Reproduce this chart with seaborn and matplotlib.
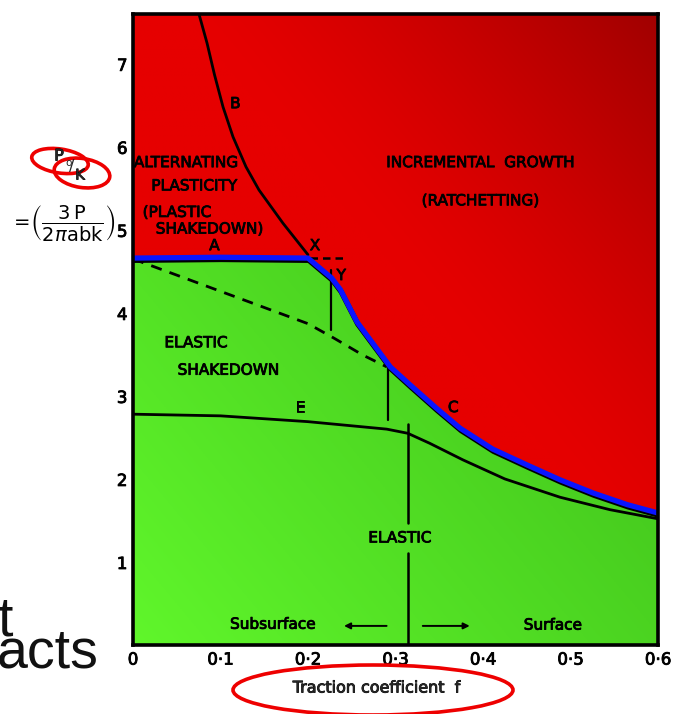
import numpy as np
import pandas as pd
import matplotlib
matplotlib.use("Agg")
import matplotlib.pyplot as plt
import matplotlib.patheffects as pe
from matplotlib.patches import Ellipse, Polygon
import seaborn as sns

# ---------------- data ----------------
bound_f = [0.0, 0.10, 0.20, 0.227, 0.237, 0.256, 0.294, 0.317, 0.347, 0.374, 0.411, 0.45, 0.488, 0.526, 0.565, 0.60]
bound_y = [4.66, 4.67, 4.66, 4.42, 4.28, 3.89, 3.35, 3.13, 2.85, 2.61, 2.36, 2.17, 1.99, 1.83, 1.69, 1.59]

b_f = [0.0754, 0.0846, 0.0931, 0.1029, 0.1143, 0.1291, 0.1440, 0.1714, 0.2000]
b_y = [7.60, 7.25, 6.87, 6.48, 6.12, 5.76, 5.48, 5.08, 4.70]

dash_f = [0.0, 0.10, 0.20, 0.229, 0.263, 0.290]
dash_y = [4.65, 4.26, 3.87, 3.70, 3.49, 3.35]

e_f = [0.0, 0.10, 0.20, 0.29, 0.314, 0.339, 0.377, 0.425, 0.488, 0.545, 0.60]
e_y = [2.78, 2.76, 2.69, 2.60, 2.55, 2.43, 2.23, 2.00, 1.78, 1.63, 1.52]

x_ticks = [0, 0.1, 0.2, 0.3, 0.4, 0.5, 0.6]
x_ticklabels = ["0", "0·1", "0·2", "0·3", "0·4", "0·5", "0·6"]
y_ticks = [1, 2, 3, 4, 5, 6, 7]
y_ticklabels = ["1", "2", "3", "4", "5", "6", "7"]

sns.set_style("white")
FONT = ['DejaVu Sans']
plt.rcParams['font.family'] = FONT
BOLDEN = [pe.withStroke(linewidth=0.6, foreground="black")]

fig = plt.figure(figsize=(6.83, 7.14), dpi=100)
W, H = 683, 714
ax = fig.add_axes([133 / W, 1 - 645 / H, (658 - 133) / W, (645 - 14) / H])
XMAX, YMAX = 0.6, 7.6
ax.set_xlim(0, XMAX)
ax.set_ylim(0, YMAX)

# ---------------- gradient backgrounds ----------------
n = 300
xx, yy = np.meshgrid(np.linspace(0, 1, n), np.linspace(0, 1, n))
t = (xx + yy) / 2.0


def grad(c0, c1, tt):
    c0 = np.array(matplotlib.colors.to_rgb(c0))
    c1 = np.array(matplotlib.colors.to_rgb(c1))
    return c0[None, None, :] * (1 - tt[..., None]) + c1[None, None, :] * tt[..., None]


tr = np.clip((t - 0.55) / 0.45, 0, 1) ** 1.4
red_img = grad("#e60000", "#a00000", tr)
tg = np.clip(t / 0.8, 0, 1)
green_img = grad("#60f62b", "#3fbf1b", tg)

ax.imshow(red_img, extent=[0, XMAX, 0, YMAX], origin="lower", aspect="auto", zorder=0)
gim = ax.imshow(green_img, extent=[0, XMAX, 0, YMAX], origin="lower", aspect="auto", zorder=0.5)
poly_pts = [(0, 0)] + list(zip(bound_f, bound_y)) + [(XMAX, 0)]
clip_poly = Polygon(poly_pts, closed=True, transform=ax.transData, facecolor="none", edgecolor="none")
ax.add_patch(clip_poly)
gim.set_clip_path(clip_poly)

# ---------------- lines ----------------
df_b = pd.DataFrame({"f": b_f, "y": b_y})
df_d = pd.DataFrame({"f": dash_f, "y": dash_y})
df_e = pd.DataFrame({"f": e_f, "y": e_y})
df_bound = pd.DataFrame({"f": bound_f, "y": bound_y})

sns.lineplot(data=df_b, x="f", y="y", sort=False, color="black", lw=2.0, ax=ax, zorder=3)
l = sns.lineplot(data=df_d, x="f", y="y", sort=False, color="black", lw=2.0, ax=ax, zorder=3)
l.lines[-1].set_dashes([4, 3])
sns.lineplot(data=df_e, x="f", y="y", sort=False, color="black", lw=2.0, ax=ax, zorder=3)
sns.lineplot(data=df_bound, x="f", y="y", sort=False, color="#0a14ff", lw=3.8, ax=ax, zorder=4,
             path_effects=[pe.SimpleLineShadow(offset=(0.6, -1.6), shadow_color="black", alpha=1.0),
                           pe.Normal()])
for ln in ax.lines:
    ln.set_solid_joinstyle("round")
    ln.set_solid_capstyle("round")

# small dashed horizontal at X
ax.plot([0.202, 0.242], [4.66, 4.66], color="black", lw=1.8, dashes=[3, 2], zorder=3)
# vertical markers
ax.plot([0.226, 0.226], [3.80, 4.52], color="black", lw=1.6, zorder=3)
ax.plot([0.291, 0.291], [2.71, 3.35], color="black", lw=1.6, zorder=3)
ax.plot([0.314, 0.314], [1.47, 2.66], color="black", lw=1.8, zorder=3)
ax.plot([0.314, 0.314], [0.0, 1.11], color="black", lw=1.8, zorder=3)

# arrows
ax.annotate("", xy=(0.238, 0.23), xytext=(0.293, 0.23),
            arrowprops=dict(arrowstyle="-|>", color="black", lw=1.4, mutation_scale=9), zorder=5)
ax.annotate("", xy=(0.388, 0.23), xytext=(0.328, 0.23),
            arrowprops=dict(arrowstyle="-|>", color="black", lw=1.4, mutation_scale=9), zorder=5)

# ---------------- text labels ----------------
tk = dict(color="black", family=FONT, fontsize=11, zorder=6, path_effects=BOLDEN)
ax.text(0.397, 5.81, "INCREMENTAL  GROWTH", ha="center", va="center", **tk)
ax.text(0.397, 5.35, "(RATCHETTING)", ha="center", va="center", **tk)
ax.text(0.001, 5.81, "ALTERNATING", ha="left", va="center", **tk)
ax.text(0.070, 5.53, "PLASTICITY", ha="center", va="center", **tk)
ax.text(0.011, 5.21, "(PLASTIC", ha="left", va="center", **tk)
ax.text(0.026, 5.01, "SHAKEDOWN)", ha="left", va="center", **tk)
ax.text(0.093, 4.81, "A", ha="center", va="center", **tk)
ax.text(0.117, 6.52, "B", ha="center", va="center", **tk)
ax.text(0.208, 4.81, "X", ha="center", va="center", **tk)
ax.text(0.238, 4.45, "Y", ha="center", va="center", **tk)
ax.text(0.366, 2.86, "C", ha="center", va="center", **tk)
ax.text(0.191, 2.86, "E", ha="center", va="center", **tk)
ax.text(0.072, 3.64, "ELASTIC", ha="center", va="center", **tk)
ax.text(0.109, 3.31, "SHAKEDOWN", ha="center", va="center", **tk)
ax.text(0.305, 1.29, "ELASTIC", ha="center", va="center", **tk)
ax.text(0.160, 0.25, "Subsurface", ha="center", va="center", **tk)
ax.text(0.480, 0.24, "Surface", ha="center", va="center", **tk)

# ---------------- axes styling ----------------
for s in ax.spines.values():
    s.set_color("black")
    s.set_linewidth(2.6)
    s.set_zorder(7)
ax.set_xticks(x_ticks)
ax.set_xticklabels(x_ticklabels, family=FONT, fontsize=12)
ax.set_yticks(y_ticks)
ax.set_yticklabels(y_ticklabels, family=FONT, fontsize=12)
for lab in ax.get_xticklabels() + ax.get_yticklabels():
    lab.set_path_effects(BOLDEN)
ax.tick_params(direction="in", length=5, width=1.4, colors="black", pad=4)
ax.set_xlabel("")
ax.set_ylabel("")


def fx(px):
    return px / W


def fy(py):
    return 1 - py / H


fig.text(fx(377), fy(688), "Traction coefficient  f", ha="center", va="center",
         fontsize=11.5, family=FONT, path_effects=BOLDEN)

# y-axis label (figure text)
fig.text(fx(59), fy(156), "P", ha="center", va="center", fontsize=11.5, family=FONT, path_effects=BOLDEN)
fig.text(fx(69), fy(163), "o", ha="center", va="center", fontsize=7.5, family=FONT)
fig.text(fx(72), fy(166), "/", ha="center", va="center", fontsize=11.5, family=FONT)
fig.text(fx(80), fy(175), "K", ha="center", va="center", fontsize=10.5, family=FONT, path_effects=BOLDEN)
fig.text(fx(63), fy(223), r"$=\!\left(\dfrac{3\,\mathrm{P}}{2\pi\mathrm{abk}}\right)$",
         ha="center", va="center", fontsize=14, color="black")

# red ellipses (annotations drawn on the slide)
fig.patches.append(Ellipse((fx(60), fy(161)), 57 / W, 24 / H, angle=-8, fill=False,
                           edgecolor="#ee0000", lw=2.6, transform=fig.transFigure))
fig.patches.append(Ellipse((fx(82), fy(173)), 56 / W, 29 / H, angle=-8, fill=False,
                           edgecolor="#ee0000", lw=2.6, transform=fig.transFigure))
fig.patches.append(Ellipse((fx(373), fy(690)), 280 / W, 50 / H, angle=0, fill=False,
                           edgecolor="#ee0000", lw=2.6, transform=fig.transFigure))

# cropped slide text on the left
fig.text(fx(-3), fy(635), "t", ha="left", va="baseline", fontsize=40,
         family="Liberation Sans", color="#111111")
fig.text(fx(-3), fy(668), "acts", ha="left", va="baseline", fontsize=40,
         family="Liberation Sans", color="#111111")

fig.savefig("out.png", dpi=100)
